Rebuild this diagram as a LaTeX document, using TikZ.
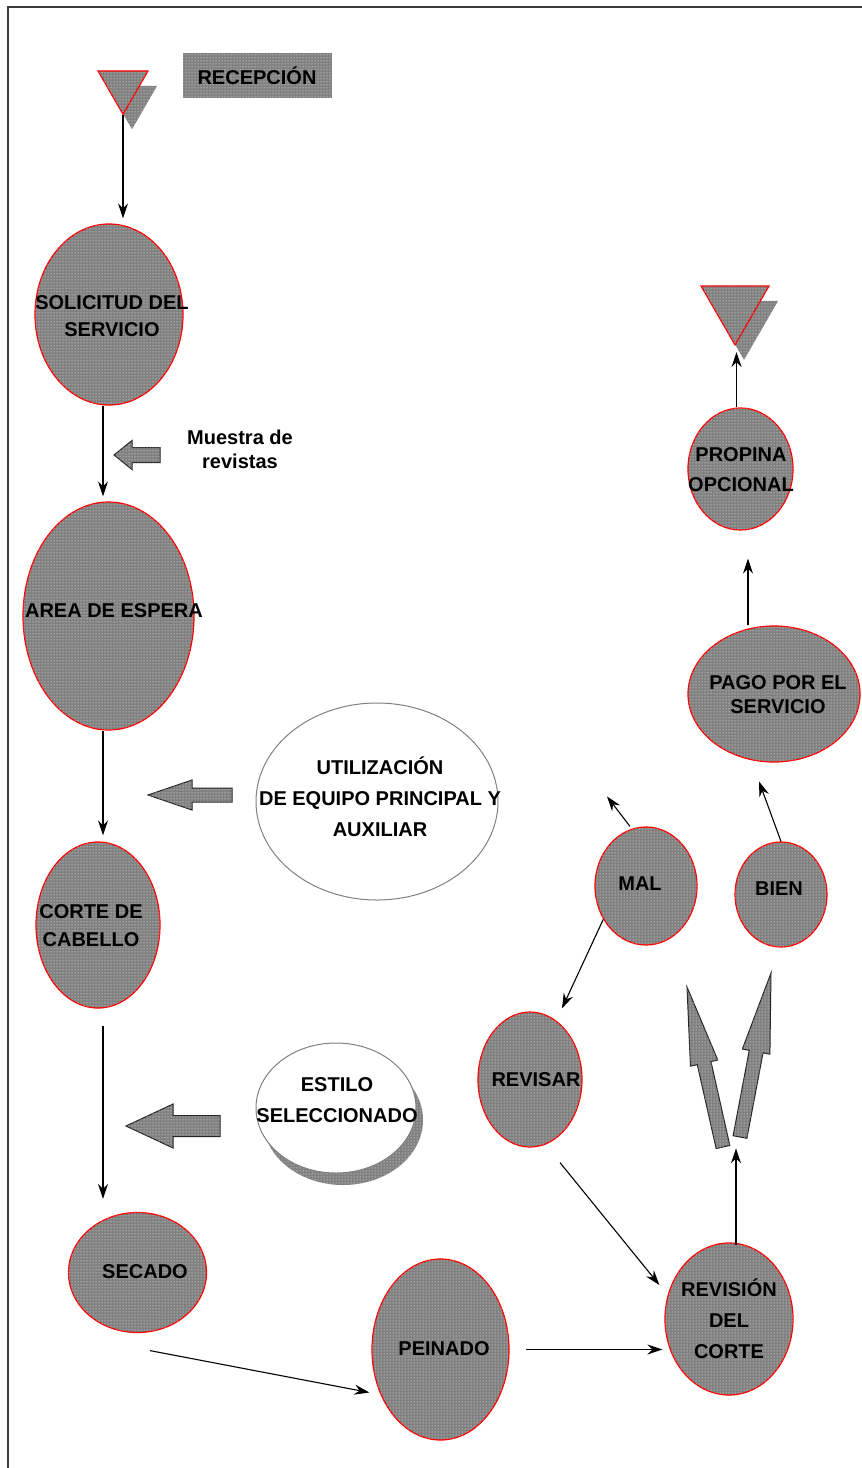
\documentclass[tikz,border=0pt]{standalone}
\usepackage{fontspec}
\setmainfont{Liberation Sans}
\usetikzlibrary{shapes.geometric,arrows.meta,calc,patterns}
\definecolor{shade}{RGB}{128,128,128}
\definecolor{frm}{RGB}{60,60,60}
\tikzset{
  dotfill/.style={fill=shade, postaction={pattern=dots, pattern color=white}},
  redell/.style={ellipse, draw=red, line width=1.2pt, dotfill, inner sep=0pt},
  whiteell/.style={ellipse, draw=gray, line width=1pt, fill=white, inner sep=0pt},
  shadowell/.style={ellipse, dotfill, inner sep=0pt},
  lbl/.style={font=\bfseries\fontsize{20}{27}\selectfont, align=center, inner sep=0pt},
  conn/.style={draw=black, line width=1.1pt, -{Stealth[length=15pt,width=10pt,inset=5pt]}},
  blk/.style={dotfill, draw=black!85, line width=1pt, line join=miter},
  tri/.style={regular polygon, regular polygon sides=3, shape border rotate=180, inner sep=0pt},
}
\newcommand{\blkarrow}[5]{%
  \coordinate (ba) at (#1); \coordinate (ta) at (#2);
  \coordinate (ha) at ($(ta)!#5!(ba)$);
  \path[blk] ($(ba)!#3!90:(ta)$) -- ($(ha)!#3!90:(ta)$) -- ($(ha)!#4!90:(ta)$) -- (ta)
    -- ($(ha)!#4!-90:(ta)$) -- ($(ha)!#3!-90:(ta)$) -- ($(ba)!#3!-90:(ta)$) -- cycle;
}
\begin{document}
\begin{tikzpicture}[x=1pt,y=-1pt]
\useasboundingbox (0,0) rectangle (862,1468);
\fill[white] (0,0) rectangle (862,1468);
\draw[frm, line width=2.5pt] (8,1468) -- (8,7) -- (862,7);

% start and end triangles with shadows
\node[tri, dotfill, minimum size=57.7pt] (tri1s) at (132,100.4) {};
\node[tri, dotfill, draw=red, line width=1.2pt, minimum size=57.7pt] (tri1) at (123,85.4) {};
\node[tri, dotfill, minimum size=78.5pt] (tri2s) at (744,320.6) {};
\node[tri, dotfill, draw=red, line width=1.2pt, minimum size=78.5pt] (tri2) at (735,305.6) {};

% reception label
\node[dotfill, minimum width=149pt, minimum height=45pt, inner sep=0pt] (rec) at (257.5,75.5) {};
\node[lbl] (rect) at (257,76) {RECEPCIÓN};

% process ellipses
\node[redell, minimum width=148pt, minimum height=181pt] (sol) at (109,314.5) {};
\node[redell, minimum width=171pt, minimum height=228pt] (esp) at (108.5,616) {};
\node[whiteell, minimum width=242pt, minimum height=197pt] (uti) at (377,801.5) {};
\node[redell, minimum width=124pt, minimum height=166pt] (cab) at (98,925) {};
\node[shadowell, minimum width=160pt, minimum height=130pt] (ests) at (343,1120) {};
\node[whiteell, minimum width=160pt, minimum height=130pt] (est) at (336,1108) {};
\node[redell, minimum width=138pt, minimum height=120pt] (sec) at (137.5,1272.5) {};
\node[redell, minimum width=137pt, minimum height=181pt] (pei) at (440.5,1349.5) {};
\node[redell, minimum width=128pt, minimum height=152pt] (rev) at (729,1319) {};
\node[redell, minimum width=104pt, minimum height=135pt] (rvs) at (530,1079.5) {};
\node[redell, minimum width=102pt, minimum height=118pt] (mal) at (646,886) {};
\node[redell, minimum width=92pt, minimum height=105pt] (bien) at (781,894.5) {};
\node[redell, minimum width=172pt, minimum height=136pt] (pago) at (774,694) {};
\node[redell, minimum width=105pt, minimum height=122pt] (pro) at (740.5,469) {};

% labels
\node[lbl] (solt) at (112,316) {SOLICITUD DEL\\SERVICIO};
\node[lbl] (muet) at (240,449) {Muestra de\\[-3pt]revistas};
\node[lbl] (espt) at (114,611) {AREA DE ESPERA};
\node[lbl] (utit) at (380,797) {UTILIZACIÓN\\[4pt]DE EQUIPO PRINCIPAL Y\\[4pt]AUXILIAR};
\node[lbl] (cabt) at (91,926) {CORTE DE\\[1pt]CABELLO};
\node[lbl] (estt) at (337,1100) {ESTILO\\[4pt]SELECCIONADO};
\node[lbl] (sect) at (145,1272) {SECADO};
\node[lbl] (peit) at (444,1349) {PEINADO};
\node[lbl] (revt) at (729,1319) {REVISIÓN\\[4pt]DEL\\[4pt]CORTE};
\node[lbl] (rvst) at (536,1080) {REVISAR};
\node[lbl] (malt) at (640,884) {MAL};
\node[lbl] (bient) at (779,889) {BIEN};
\node[lbl] (pagot) at (778,695) {PAGO POR EL\\[-3pt]SERVICIO};
\node[lbl] (prot) at (741,470) {PROPINA\\[3pt]OPCIONAL};

% block arrows
\blkarrow{160,455}{114,455}{7.5pt}{14.5pt}{18pt}
\blkarrow{232,795}{148,795}{7pt}{15pt}{44pt}
\blkarrow{220,1126}{126,1126}{10.5pt}{22pt}{47pt}
\blkarrow{723,1147}{687,987}{7pt}{14pt}{78pt}
\blkarrow{740,1137}{771,973}{7pt}{14pt}{80pt}

% connectors
\draw[conn, shorten >=5pt] (tri1.south) -- (tri1.south |- sol.north);
\draw[conn, shorten >=5pt] ([xshift=-6pt]sol.south) -- ([xshift=-5.5pt]esp.north);
\draw[conn, shorten >=6pt] ([xshift=-5.5pt]esp.south) -- ([xshift=5pt]cab.north);
\draw[conn, shorten <=17pt, shorten >=13pt] ([xshift=5pt]cab.south) -- ([xshift=5pt]cab.south |- sec.north);
\draw[conn] ([xshift=12.5pt,yshift=-17.5pt]sec.south) -- ([xshift=-2pt,yshift=-43pt]pei.west);
\draw[conn, shorten <=16pt, shorten >=2pt] (pei.east) -- (pei.east -| rev.west);
\draw[conn] ([xshift=7pt,yshift=-3pt]rev.north) -- ++(0,-97);
\draw[conn] ([xshift=30pt,yshift=-15pt]rvs.south) -- ([xshift=-5pt,yshift=34pt]rev.west);
\draw[conn] (mal.-142) -- ([xshift=32pt,yshift=3pt]rvs.north);
\draw[conn] ([xshift=-16pt]mal.north) -- ++(-23,-30);
\draw[conn] (bien.north) -- ++(-22,-60);
\draw[conn, shorten >=28pt] ([xshift=-26pt]pago.north) -- ([xshift=-26pt]pago.north |- pro.south);
\draw[conn, shorten >=6pt] ([xshift=-4pt]pro.north) -- ([xshift=-4pt]pro.north |- tri2.south);
\end{tikzpicture}
\end{document}
